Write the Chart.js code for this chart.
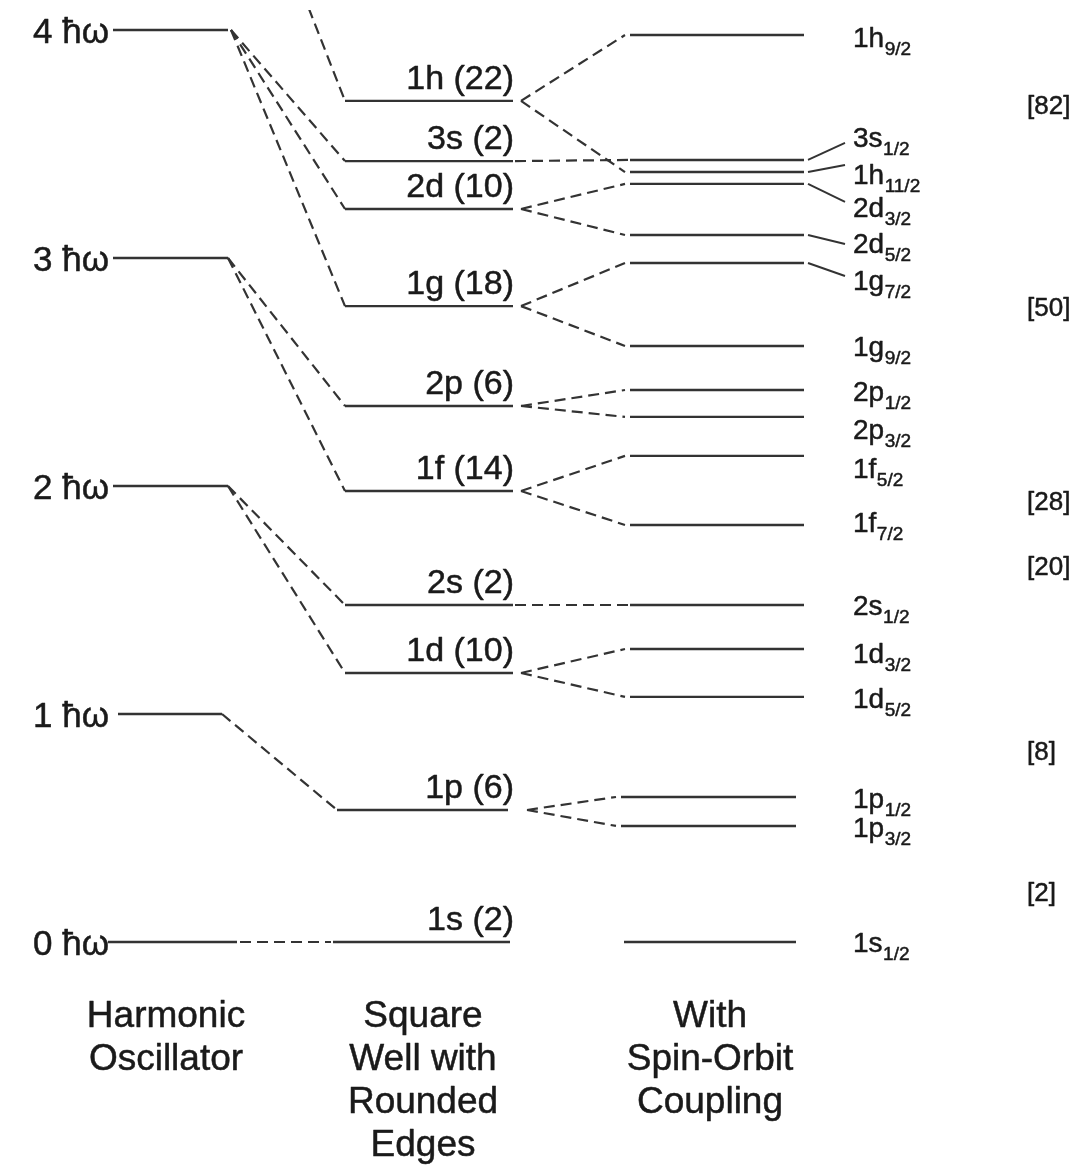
<!DOCTYPE html>
<html>
<head>
<meta charset="utf-8">
<title>Nuclear shell model levels</title>
<script src="https://cdn.jsdelivr.net/npm/chart.js@4/dist/chart.umd.min.js"></script>
<style>
  html, body { margin: 0; padding: 0; background: #ffffff; }
  #wrap { width: 1076px; height: 1166px; }
</style>
</head>
<body>
<div id="wrap"><canvas id="levels" width="1076" height="1166"></canvas></div>
<script>
// ---- Data: level energies in units of ħω ----

// Harmonic oscillator shells N (N = 5 lies above the drawn range)
const hoShells = [0, 1, 2, 3, 4, 5];

// Square well with rounded edges
const swNames  = ['1s', '1p', '1d', '2s', '1f', '2p', '1g', '2d', '3s', '1h'];
const swDegen  = [2, 6, 10, 2, 14, 6, 18, 10, 2, 22];
const swShell  = [0, 1, 2, 2, 3, 3, 4, 4, 4, 5];
const swEnergy = [0.00, 0.579, 1.180, 1.478, 1.978, 2.351, 2.789, 3.215, 3.425, 3.689];

// With spin-orbit coupling
const soOrbit  = ['1s', '1p', '1p', '1d', '1d', '2s', '1f', '1f', '2p', '2p', '1g', '1g', '2d', '2d', '1h', '3s', '1h'];
const soJ      = ['1/2', '3/2', '1/2', '5/2', '3/2', '1/2', '7/2', '5/2', '3/2', '1/2', '9/2', '7/2', '5/2', '3/2', '11/2', '1/2', '9/2'];
const soEnergy = [0.00, 0.509, 0.636, 1.075, 1.285, 1.478, 1.829, 2.132, 2.303, 2.421, 2.614, 2.978, 3.101, 3.325, 3.377, 3.430, 3.978];

// Magic numbers and the energies of the gaps they sit in
const magicNumbers = [2, 8, 20, 28, 50, 82];
const magicEnergy  = [0.211, 0.829, 1.640, 1.925, 2.776, 3.662];

// Column headings
const headings = [
  ['Harmonic', 'Oscillator'],
  ['Square', 'Well with', 'Rounded', 'Edges'],
  ['With', 'Spin-Orbit', 'Coupling']
];

// ---- Layout (horizontal units of the x scale, pixel offsets for text) ----
const layout = {
  ho: { x0: 113, x1: 228, over: { 1: [118, 222], 0: [108, 237] } },
  sw: { x0: 345, x1: 513, over: { '1p': [337, 508], '1s': [333, 510] } },
  so: { x0: 630, x1: 804, over: { '1p': [621, 796], '1s': [624, 796] } },
  fork: { def: [521, 625], over: { '1p': [527, 616] } },
  soLabelX: 853,
  soLeaderX: [808, 845],
  // label centre shift (px) for each spin-orbit level, and leader end shift
  soLabelShift:  [0, 1, 1, 1, 4, 0, -3, 12, 12, 1, 0, 17, 8, 23, 2, -23, 2],
  soLeaderShift: [null, null, null, null, null, null, null, null, null, null, null, 13, 9, 18, -7, -17, null],
  magicX: 1027,
  hoLabelX: 109,
  swLabelX: 514,
  headingX: [166, 423, 710],
  headingTop: 1027,
  headingStep: 43
};

const LINE = '#333333';
const INK = '#1a1a1a';
const FONT = '"Liberation Sans", Arial, Helvetica, sans-serif';

function hoSpan(n) { return layout.ho.over[n] || [layout.ho.x0, layout.ho.x1]; }
function swSpan(name) { return layout.sw.over[name] || [layout.sw.x0, layout.sw.x1]; }
function soSpan(orbit) { return layout.so.over[orbit] || [layout.so.x0, layout.so.x1]; }

// ---- Build line segments ----
const segments = [];
function seg(a, b, kind) { segments.push({ a, b, kind }); }

// oscillator levels (drawn shells only)
hoShells.filter(n => n <= 4).forEach(n => {
  const s = hoSpan(n);
  seg([s[0], n], [s[1], n], 'level');
});

// square-well levels and their links back to the oscillator shells
swNames.forEach((name, i) => {
  const s = swSpan(name);
  const e = swEnergy[i];
  seg([s[0], e], [s[1], e], 'level');
  const n = swShell[i];
  const h = hoSpan(n);
  if (e === n) {
    seg([h[1] + 3, n], [s[0] - 2, e], 'dash');
  } else {
    seg([h[1] + (n === 4 ? 3 : 0), n], [s[0], e], 'dash');
  }
});

// spin-orbit levels, splitting links and label leaders
soOrbit.forEach((orb, k) => {
  const s = soSpan(orb);
  const e = soEnergy[k];
  seg([s[0], e], [s[1], e], 'level');
  const i = swNames.indexOf(orb);
  const partners = soOrbit.filter(o => o === orb).length;
  if (orb === '1s') return;
  if (partners === 1) {
    seg([swSpan(orb)[1] + 2, swEnergy[i]], [s[0] - 2, e], 'dash');
  } else {
    const f = layout.fork.over[orb] || layout.fork.def;
    seg([f[0], swEnergy[i]], [f[1], e], 'dash');
  }
});

// ---- Chart ----
const PAD_TOP = 10;
const Y_MAX = 4.0877, Y_MIN = -0.9825;

const datasets = segments.map(sg => ({
  data: [{ x: sg.a[0], y: sg.a[1] }, { x: sg.b[0], y: sg.b[1] }],
  showLine: true,
  borderColor: LINE,
  borderWidth: sg.kind === 'level' ? 2.4 : 2.2,
  borderDash: sg.kind === 'dash' ? [11, 6] : [],
  pointRadius: 0,
  pointHoverRadius: 0,
  fill: false,
  tension: 0
}));

// text with a hairline outline so glyphs carry the same weight as the rules
function ink(ctx, t, x, y) {
  ctx.fillText(t, x, y);
  ctx.strokeText(t, x, y);
}

const textPlugin = {
  id: 'levelText',
  afterDatasetsDraw(chart) {
    const ctx = chart.ctx;
    const xs = chart.scales.x, ys = chart.scales.y;
    const X = v => xs.getPixelForValue(v);
    const Y = v => ys.getPixelForValue(v);
    ctx.save();

    // leader lines for crowded spin-orbit labels
    ctx.strokeStyle = LINE;
    ctx.lineWidth = 1.9;
    ctx.setLineDash([]);
    soEnergy.forEach((e, k) => {
      const sh = layout.soLeaderShift[k];
      if (sh === null) return;
      ctx.beginPath();
      ctx.moveTo(X(layout.soLeaderX[0]), Y(e));
      ctx.lineTo(X(layout.soLeaderX[1]), Y(e) + sh);
      ctx.stroke();
    });

    ctx.fillStyle = INK;
    ctx.strokeStyle = INK;
    ctx.lineWidth = 0.5;
    ctx.lineJoin = 'round';

    // oscillator labels
    ctx.font = '35px ' + FONT;
    ctx.textAlign = 'right';
    ctx.textBaseline = 'middle';
    hoShells.filter(n => n <= 4).forEach(n => {
      ink(ctx, n + ' \u0127\u03c9', X(layout.hoLabelX), Y(n) + 3);
    });

    // square-well labels
    ctx.font = '34px ' + FONT;
    ctx.textBaseline = 'alphabetic';
    swNames.forEach((name, i) => {
      ink(ctx, name + ' (' + swDegen[i] + ')', X(layout.swLabelX), Y(swEnergy[i]) - 12);
    });

    // spin-orbit labels with j subscripts
    ctx.textAlign = 'left';
    soOrbit.forEach((orb, k) => {
      const cy = Y(soEnergy[k]) + layout.soLabelShift[k];
      const x = X(layout.soLabelX);
      ctx.font = '28px ' + FONT;
      ink(ctx, orb, x, cy + 10);
      const w = ctx.measureText(orb).width;
      ctx.font = '19px ' + FONT;
      ink(ctx, soJ[k], x + w + 0.5, cy + 18);
    });

    // magic numbers
    ctx.font = '26px ' + FONT;
    ctx.textBaseline = 'middle';
    magicNumbers.forEach((m, i) => {
      ink(ctx, '[' + m + ']', X(layout.magicX), Y(magicEnergy[i]));
    });

    // column headings
    ctx.font = '37px ' + FONT;
    ctx.textAlign = 'center';
    ctx.textBaseline = 'alphabetic';
    headings.forEach((lines, c) => {
      lines.forEach((t, r) => {
        ink(ctx, t, X(layout.headingX[c]), layout.headingTop + r * layout.headingStep);
      });
    });
    ctx.restore();
  }
};

new Chart(document.getElementById('levels'), {
  type: 'scatter',
  data: { datasets },
  options: {
    responsive: false,
    animation: false,
    events: [],
    layout: { padding: { top: PAD_TOP, bottom: 0, left: 0, right: 0 } },
    plugins: { legend: { display: false }, tooltip: { enabled: false } },
    scales: {
      x: { type: 'linear', min: 0, max: 1076, display: false },
      y: { type: 'linear', min: Y_MIN, max: Y_MAX, display: false }
    }
  },
  plugins: [textPlugin]
});
</script>
</body>
</html>
